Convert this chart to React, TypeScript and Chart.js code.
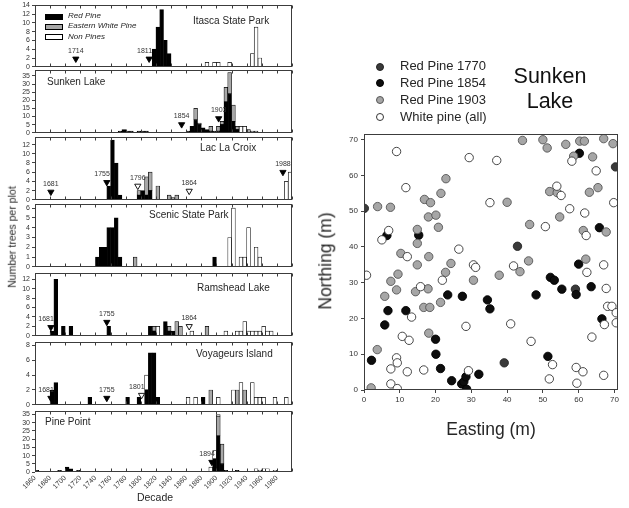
import React, { useEffect, useRef } from "react";
import { Chart, registerables } from "chart.js";

Chart.register(...registerables);

const FONT = '"Liberation Sans", Arial, Helvetica, sans-serif';

// ---------------- DATA: left panels (5-year bins, bin start year) ----------------
const itascaYears = [1815, 1820, 1825, 1830, 1835, 1885, 1895, 1900, 1915, 1945, 1950, 1955];
const itascaRed = [4, 9, 13, 6, 3, 0, 0, 0, 0, 0, 0, 0];
const itascaWhite = [0, 0, 0, 0, 0, 0, 0, 0, 0, 0, 0, 0];
const itascaNon = [0, 0, 0, 0, 0, 1, 1, 1, 1, 3, 9, 2];
const itascaMarkYears = [1714, 1811];
const itascaMarkHeights = [1.8, 1.8];
const itascaMarkOpen = [false, false];

const sunkenYears = [1770, 1775, 1780, 1785, 1795, 1800, 1805, 1860, 1865, 1870, 1875, 1880, 1885, 1890, 1895, 1900, 1905, 1910, 1915, 1920, 1925, 1930, 1935, 1940, 1945, 1950];
const sunkenRed = [1, 2, 1, 1, 1, 1, 1, 1, 4, 8, 5, 3, 2, 1, 1, 1, 5, 19, 24, 7, 2, 0, 0, 0, 0, 0];
const sunkenWhite = [0, 0, 0, 0, 0, 0, 0, 0, 0, 7, 1, 0, 0, 3, 0, 3, 2, 9, 13, 10, 2, 0, 0, 2, 1, 1];
const sunkenNon = [0, 0, 0, 0, 0, 0, 0, 0, 0, 0, 0, 0, 0, 0, 0, 0, 0, 0, 0, 0, 0, 4, 4, 0, 0, 0];
const sunkenMarkYears = [1854, 1903];
const sunkenMarkHeights = [5.1, 8.8];
const sunkenMarkOpen = [false, false];

const lacYears = [1755, 1760, 1765, 1770, 1795, 1800, 1805, 1810, 1820, 1835, 1840, 1845, 1990, 1995];
const lacRed = [3, 13, 8, 1, 1, 2, 1, 2, 0, 0, 0, 0, 0, 0];
const lacWhite = [0, 0, 0, 0, 1, 0, 4, 4, 3, 1, 0.5, 1, 0, 0];
const lacNon = [0, 0, 0, 0, 0, 0, 0, 0, 0, 0, 0, 0, 4, 6];
const lacMarkYears = [1681, 1755, 1796, 1864, 1988];
const lacMarkHeights = [1.7, 3.8, 3.0, 1.9, 6.0];
const lacMarkOpen = [false, false, true, true, false];

const scenicYears = [1740, 1745, 1750, 1755, 1760, 1765, 1770, 1790, 1895, 1915, 1920, 1930, 1935, 1940, 1950, 1955];
const scenicRed = [1, 2, 2, 4, 4, 5, 1, 0, 1, 0, 0, 0, 0, 0, 0, 0];
const scenicWhite = [0, 0, 0, 0, 0, 0, 0, 1, 0, 0, 0, 0, 0, 0, 0, 0];
const scenicNon = [0, 0, 0, 0, 0, 0, 0, 0, 0, 3, 6, 1, 1, 4, 2, 1];
const scenicMarkYears: number[] = [];
const scenicMarkHeights: number[] = [];
const scenicMarkOpen: boolean[] = [];

const ramsYears = [1680, 1685, 1695, 1705, 1755, 1810, 1815, 1820, 1830, 1835, 1840, 1845, 1850, 1865, 1885, 1910, 1925, 1930, 1935, 1940, 1945, 1950, 1955, 1960, 1965, 1970];
const ramsRed = [1, 12, 2, 2, 2, 2, 1, 0, 3, 1, 1, 0, 0, 0, 0, 0, 0, 0, 0, 0, 0, 0, 0, 0, 0, 0];
const ramsWhite = [0, 0, 0, 0, 0, 0, 1, 0, 0, 1, 0, 3, 2, 0, 2, 0, 0, 0, 0, 0, 0, 0, 0, 0, 0, 0];
const ramsNon = [0, 0, 0, 0, 0, 0, 0, 2, 0, 0, 0, 0, 0, 1, 0, 1, 1, 1, 3, 1, 1, 1, 1, 2, 1, 1];
const ramsMarkYears = [1681, 1755, 1864];
const ramsMarkHeights = [1.8, 2.9, 2.0];
const ramsMarkOpen = [false, false, true];

const voyYears = [1680, 1685, 1730, 1780, 1795, 1805, 1810, 1815, 1820, 1860, 1870, 1880, 1890, 1900, 1920, 1925, 1930, 1935, 1945, 1950, 1955, 1960, 1975, 1990];
const voyRed = [2, 3, 1, 1, 1, 2, 7, 7, 1, 0, 0, 1, 0, 0, 0, 0, 0, 0, 0, 0, 0, 0, 0, 0];
const voyWhite = [0, 0, 0, 0, 0, 0, 0, 0, 0, 0, 0, 0, 2, 0, 0, 2, 0, 2, 0, 0, 0, 0, 0, 0];
const voyNon = [0, 0, 0, 0, 0, 2, 0, 0, 0, 1, 1, 0, 0, 1, 2, 0, 3, 0, 3, 1, 1, 1, 1, 1];
const voyMarkYears = [1681, 1755, 1801];
const voyMarkHeights = [0.9, 0.9, 1.3];
const voyMarkOpen = [false, false, true];

const pineYears = [1660, 1690, 1700, 1705, 1715, 1890, 1895, 1900, 1905, 1910, 1925, 1950, 1955, 1960, 1965, 1975];
const pineRed = [1, 1, 3, 2, 1, 0, 8, 22, 5, 1, 1, 0, 0, 0, 0, 0];
const pineWhite = [0, 0, 0, 0, 0, 0, 0, 12, 12, 0, 0, 0, 0, 0, 0, 0];
const pineNon = [0, 0, 0, 0, 0, 3, 5, 1, 0, 0, 0, 2, 1, 2, 2, 1];
const pineMarkYears = [1894];
const pineMarkHeights = [6];
const pineMarkOpen = [false];

const decadeTicks = { min: 1660, max: 2000, step: 20 };

// ---------------- DATA: Sunken Lake stem map (Easting, Northing in m) ----------------
const rp1770: [number, number][] = [[0.1, 50.8], [42.9, 40.2], [39.2, 7.6], [59.1, 28.2], [70.3, 62.4]];
const rp1854: [number, number][] = [[60.2, 66.2], [65.8, 45.4], [6.4, 43.2], [15.3, 43.3], [5.8, 18.2], [6.7, 22.2], [2.1, 8.3], [11.7, 22.2], [20, 14.2], [20.1, 10], [21.4, 6], [23.4, 26.6], [27.5, 26.2], [24.5, 2.6], [27.3, 1.7], [27.9, 2.3], [28.5, 3.7], [28.7, 0.2], [32.1, 4.4], [34.5, 25.2], [35.2, 22.7], [48.1, 26.6], [52.1, 31.5], [53.2, 30.7], [55.3, 28.2], [51.4, 9.4], [59.3, 26.7], [60, 35.2], [63.5, 28.9], [66.5, 19.9]];
const rp1903: [number, number][] = [[44.3, 69.8], [50, 70], [51.2, 67.7], [56.4, 68.7], [60.3, 69.6], [61.6, 69.6], [58.6, 65.4], [63.9, 65.2], [67, 70.3], [69.6, 68.9], [65.4, 56.6], [63, 55.3], [51.9, 55.5], [54, 55.2], [54.7, 48.4], [22.9, 59.1], [16.9, 53.3], [18.6, 52.4], [21.5, 55], [18, 48.4], [20.1, 48.9], [20.8, 45.5], [14.9, 44.9], [3.8, 51.3], [7.4, 51.1], [40, 52.5], [46.3, 46.3], [61.3, 44.6], [67.7, 44.2], [14.9, 41], [3.7, 11.3], [2, 0.6], [5.8, 26.2], [7.5, 30.4], [9.1, 28], [9.5, 32.4], [10.3, 38.2], [14.9, 35], [14.4, 27.5], [17.9, 28.3], [18.1, 37.3], [16.7, 23.1], [18.4, 23.1], [18.1, 15.9], [21.4, 24.5], [22.8, 32.9], [24.3, 35.4], [30.6, 30.7], [37.8, 32.1], [43.6, 33.1], [46, 36.1], [62, 36.6]];
const whitePine: [number, number][] = [[29.4, 65], [37.1, 64.2], [9.1, 66.7], [11.7, 56.6], [64.9, 61.3], [58.1, 64], [61.7, 49.5], [69.8, 52.4], [53.9, 57], [55.1, 54.4], [57.5, 50.7], [35.2, 52.4], [50.7, 45.7], [62.1, 43.2], [6.9, 44.6], [5, 42], [0.7, 32.1], [12.1, 37.3], [13.3, 20.4], [15.8, 28.9], [10.7, 15], [12.6, 13.9], [16.7, 5.6], [12.1, 5.1], [7.5, 5.9], [9.1, 9], [9.3, 7.6], [7.5, 1.7], [9.3, 0.4], [21.9, 30.7], [26.5, 39.4], [28.5, 17.8], [29.2, 5.4], [30.6, 35], [31.2, 34.3], [41.8, 34.7], [41, 18.5], [46.7, 13.6], [52.7, 7.1], [51.8, 3.1], [62.3, 32.9], [63.7, 14.8], [59.3, 6.3], [61.2, 5.1], [59.5, 1.9], [67.2, 18.3], [67, 35], [67.7, 28.4], [68.1, 23.4], [69.3, 23.4], [70.5, 21.6], [70.5, 18.8], [67, 4.1]];
const mapTicks = { min: 0, max: 70, step: 10 };

// ---------------- panel definitions ----------------
type PanelDef = {
  name: string;
  years: number[]; red: number[]; white: number[]; non: number[];
  mYears: number[]; mHeights: number[]; mOpen: boolean[];
  yMax: number; yStep: number;
};

const PANELS: PanelDef[] = [
  { name: "Itasca State Park", years: itascaYears, red: itascaRed, white: itascaWhite, non: itascaNon, mYears: itascaMarkYears, mHeights: itascaMarkHeights, mOpen: itascaMarkOpen, yMax: 14, yStep: 2 },
  { name: "Sunken Lake", years: sunkenYears, red: sunkenRed, white: sunkenWhite, non: sunkenNon, mYears: sunkenMarkYears, mHeights: sunkenMarkHeights, mOpen: sunkenMarkOpen, yMax: 38.5, yStep: 5 },
  { name: "Lac La Croix", years: lacYears, red: lacRed, white: lacWhite, non: lacNon, mYears: lacMarkYears, mHeights: lacMarkHeights, mOpen: lacMarkOpen, yMax: 13.6, yStep: 2 },
  { name: "Scenic State Park", years: scenicYears, red: scenicRed, white: scenicWhite, non: scenicNon, mYears: scenicMarkYears, mHeights: scenicMarkHeights, mOpen: scenicMarkOpen, yMax: 6.4, yStep: 1 },
  { name: "Ramshead Lake", years: ramsYears, red: ramsRed, white: ramsWhite, non: ramsNon, mYears: ramsMarkYears, mHeights: ramsMarkHeights, mOpen: ramsMarkOpen, yMax: 13.3, yStep: 2 },
  { name: "Voyageurs Island", years: voyYears, red: voyRed, white: voyWhite, non: voyNon, mYears: voyMarkYears, mHeights: voyMarkHeights, mOpen: voyMarkOpen, yMax: 8.45, yStep: 2 },
  { name: "Pine Point", years: pineYears, red: pineRed, white: pineWhite, non: pineNon, mYears: pineMarkYears, mHeights: pineMarkHeights, mOpen: pineMarkOpen, yMax: 37, yStep: 5 },
];

// ---------------- layout / style (not data) ----------------
const PANEL_BOX = [[5, 67], [70, 133], [137, 200], [204, 267], [273, 336], [342, 405], [411, 472]];
const PANEL_NAME_POS = [[193, 21.5], [47, 83], [200, 149], [149, 216], [197, 289], [196, 355], [45, 423]];
const MARK_SIDE = [["c", "r"], ["c", "c"], ["c", "r", "c", "c", "c"], [], ["r", "c", "c"], ["r", "c", "r"], ["r"]];
const LEFT_AXIS_X = 35;
const LEFT_RIGHT_X = 292;
const LEFT_CANVAS_W = 300;
const PAD = 6;
const XAXIS_H = 24;
const BAR_W = 3.78;
const C_RED = "#000000";
const C_WHITE = "#a8a8a8";
const C_NON = "#ffffff";
const TEXT = "#262626";

const toPts = (xs: number[], ys: number[]) =>
  xs.map((x, i) => ({ x: x + 2.5, y: ys[i] })).filter((p) => p.y > 0);

const panelDecor = {
  id: "panelDecor",
  afterDatasetsDraw(chart: any, _args: any, opts: any) {
    const { ctx, chartArea: a, scales } = chart;
    const xs = scales.x;
    const ys = scales.y;
    ctx.save();
    ctx.strokeStyle = "#3c3c3c";
    ctx.lineWidth = 1;
    const L = Math.round(a.left) + 0.5, T = Math.round(a.top) + 0.5;
    const R = Math.round(a.right) - 0.5, B = Math.round(a.bottom) - 0.5;
    ctx.strokeRect(L, T, R - L, B - T);
    if (opts.innerX) {
      for (let v = opts.innerX.min; v <= opts.innerX.max; v += opts.innerX.step) {
        const px = Math.round(xs.getPixelForValue(v)) + 0.5;
        ctx.beginPath();
        ctx.moveTo(px, T); ctx.lineTo(px, T + 3);
        ctx.moveTo(px, B); ctx.lineTo(px, B - 3);
        ctx.stroke();
      }
    }
    if (opts.marks) {
      ctx.fillStyle = "#333";
      ctx.font = `7px ${FONT}`;
      ctx.textBaseline = "middle";
      opts.marks.forEach((m: any) => {
        const px = xs.getPixelForValue(m.year);
        const py = ys.getPixelForValue(m.h) - 8;
        if (m.side === "r") { ctx.textAlign = "right"; ctx.fillText(String(m.year), px + 3, py); }
        else { ctx.textAlign = "center"; ctx.fillText(String(m.year), px, py); }
      });
    }
    ctx.restore();
  },
};

function CanvasChart({ make, left, top, width, height }: { make: () => any; left: number; top: number; width: number; height: number }) {
  const ref = useRef<HTMLCanvasElement>(null);
  useEffect(() => {
    const chart = new Chart(ref.current as HTMLCanvasElement, make());
    return () => chart.destroy();
  }, []);
  return (
    <canvas
      ref={ref}
      width={width}
      height={height}
      style={{ position: "absolute", left, top, width, height }}
    />
  );
}

function panelConfig(p: PanelDef, idx: number) {
  const last = idx === PANELS.length - 1;
  const filled = p.mYears.map((y, i) => ({ x: y, y: p.mHeights[i] })).filter((_, i) => !p.mOpen[i]);
  const open = p.mYears.map((y, i) => ({ x: y, y: p.mHeights[i] })).filter((_, i) => p.mOpen[i]);
  const marks = p.mYears.map((y, i) => ({ year: y, h: p.mHeights[i], side: MARK_SIDE[idx][i] }));
  const bar = (label: string, data: any[], color: string) => ({
    type: "bar", label, data, backgroundColor: color, borderColor: "#000",
    borderWidth: 0.7, borderSkipped: false, barThickness: BAR_W, stack: "trees", order: 2,
  });
  const mark = (data: any[], fill: string, st: string) => ({
    type: "scatter", data, pointStyle: "triangle", rotation: 180, pointRadius: 3.6,
    backgroundColor: fill, borderColor: "#000", borderWidth: 0.9, stack: st, order: 1, showLine: false,
  });
  return {
    type: "bar",
    data: {
      datasets: [
        bar("Red Pine", toPts(p.years, p.red), C_RED),
        bar("Eastern White Pine", toPts(p.years, p.white), C_WHITE),
        bar("Non Pines", toPts(p.years, p.non), C_NON),
        mark(filled, "#000", "mf"),
        mark(open, "#fff", "mo"),
      ],
    },
    options: {
      responsive: false,
      animation: false,
      events: [],
      layout: { padding: { left: 0, right: LEFT_CANVAS_W - LEFT_RIGHT_X, top: PAD, bottom: last ? 0 : PAD } },
      plugins: {
        legend: { display: false },
        tooltip: { enabled: false },
        panelDecor: { innerX: decadeTicks, marks },
      },
      scales: {
        x: {
          type: "linear", min: decadeTicks.min, max: decadeTicks.max, offset: false, stacked: true,
          display: last,
          afterFit: (s: any) => { s.height = last ? XAXIS_H : 0; },
          grid: { display: true, drawOnChartArea: false, drawTicks: false, color: "#444" },
          border: { display: false },
          ticks: {
            stepSize: decadeTicks.step, minRotation: 45, maxRotation: 45, autoSkip: false,
            includeBounds: false, padding: 2, color: "#333", font: { size: 7, family: FONT },
            callback: (v: number) => (v >= decadeTicks.max ? "" : String(v)),
          },
        },
        y: {
          min: 0, max: p.yMax, stacked: true,
          afterFit: (s: any) => { s.width = LEFT_AXIS_X; },
          grid: { drawOnChartArea: false, tickLength: 3, color: "#444" },
          border: { display: false },
          ticks: { stepSize: p.yStep, autoSkip: false, includeBounds: false, padding: 2, color: "#333", font: { size: 7, family: FONT } },
        },
      },
    },
    plugins: [panelDecor],
  };
}

// scatter layout
const MAP_LEFT = 300, MAP_TOP = 125, MAP_W = 329, MAP_H = 285;

function mapConfig() {
  const ds = (label: string, arr: [number, number][], fill: string, border: string) => ({
    label, data: arr.map(([x, y]) => ({ x, y })), backgroundColor: fill, borderColor: border,
    borderWidth: 0.9, pointRadius: 4.2, pointStyle: "circle",
  });
  return {
    type: "scatter",
    data: {
      datasets: [
        ds("White pine (all)", whitePine, "#ffffff", "#333"),
        ds("Red Pine 1903", rp1903, "#a6a6a6", "#555"),
        ds("Red Pine 1854", rp1854, "#0d0d0d", "#000"),
        ds("Red Pine 1770", rp1770, "#3a3a3a", "#222"),
      ],
    },
    options: {
      responsive: false,
      animation: false,
      events: [],
      layout: { padding: { left: 0, right: 11, top: 9, bottom: 0 } },
      plugins: { legend: { display: false }, tooltip: { enabled: false }, panelDecor: {} },
      scales: {
        x: {
          type: "linear", min: 0, max: 71,
          afterFit: (s: any) => { s.height = 20; },
          grid: { drawOnChartArea: false, tickLength: 3, color: "#444" },
          border: { display: false },
          ticks: { stepSize: mapTicks.step, autoSkip: false, includeBounds: false, padding: 2, color: "#333", font: { size: 8, family: FONT },
            callback: (v: number) => (v <= mapTicks.max ? String(v) : "") },
        },
        y: {
          type: "linear", min: 0, max: 71.6,
          afterFit: (s: any) => { s.width = 64; },
          grid: { drawOnChartArea: false, tickLength: 3, color: "#444" },
          border: { display: false },
          ticks: { stepSize: mapTicks.step, autoSkip: false, includeBounds: false, padding: 3, color: "#333", font: { size: 8, family: FONT },
            callback: (v: number) => (v <= mapTicks.max ? String(v) : "") },
        },
      },
    },
    plugins: [panelDecor],
  };
}

const txt = (s: string, left: number, cy: number, size: number, extra: any = {}) => (
  <div
    key={s + left + cy}
    style={{
      position: "absolute", left, top: cy - size * 0.56, fontFamily: FONT, fontSize: size,
      lineHeight: 1, color: TEXT, whiteSpace: "nowrap", ...extra,
    }}
  >
    {s}
  </div>
);

const legendItems = [
  { label: "Red Pine", color: C_RED },
  { label: "Eastern White Pine", color: C_WHITE },
  { label: "Non Pines", color: C_NON },
];
const mapLegend = [
  { label: "Red Pine 1770", fill: "#3a3a3a", border: "#222" },
  { label: "Red Pine 1854", fill: "#0d0d0d", border: "#000" },
  { label: "Red Pine 1903", fill: "#a6a6a6", border: "#555" },
  { label: "White pine (all)", fill: "#ffffff", border: "#333" },
];

export default function App() {
  return (
    <div style={{ position: "absolute", left: 0, top: 0, width: 629, height: 508, background: "#fff", overflow: "hidden" }}>
      {PANELS.map((p, i) => {
        const [t, b] = PANEL_BOX[i];
        const last = i === PANELS.length - 1;
        const h = b - t + PAD + (last ? XAXIS_H : PAD);
        return (
          <CanvasChart key={p.name} make={() => panelConfig(p, i)} left={0} top={t - PAD} width={LEFT_CANVAS_W} height={h} />
        );
      })}
      {PANELS.map((p, i) => txt(p.name, PANEL_NAME_POS[i][0], PANEL_NAME_POS[i][1], 10))}
      {legendItems.map((it, i) => (
        <div key={it.label} style={{ position: "absolute", left: 45, top: 16.5 + i * 10.4 - 3, width: 18, height: 6, boxSizing: "border-box", border: "1px solid #000", background: it.color }} />
      ))}
      {legendItems.map((it, i) => txt(it.label, 68, 16.5 + i * 10.4, 8, { fontStyle: "italic" }))}
      <div style={{ position: "absolute", left: 12, top: 237, transform: "translate(-50%,-50%) rotate(-90deg)", fontFamily: FONT, fontSize: 10.5, lineHeight: 1, color: TEXT, whiteSpace: "nowrap" }}>
        Number trees per plot
      </div>
      <div style={{ position: "absolute", left: 155, top: 497, transform: "translate(-50%,-50%)", fontFamily: FONT, fontSize: 10.5, lineHeight: 1, color: TEXT, whiteSpace: "nowrap" }}>
        Decade
      </div>

      <CanvasChart make={mapConfig} left={MAP_LEFT} top={MAP_TOP} width={MAP_W} height={MAP_H} />
      {mapLegend.map((it, i) => (
        <div key={it.label} style={{ position: "absolute", left: 380 - 4, top: 66.7 + i * 16.7 - 4, width: 8, height: 8, borderRadius: "50%", boxSizing: "border-box", border: `1px solid ${it.border}`, background: it.fill }} />
      ))}
      {mapLegend.map((it, i) => txt(it.label, 400, 66.7 + i * 16.7, 13))}
      <div style={{ position: "absolute", left: 550, top: 89, transform: "translate(-50%,-50%)", fontFamily: FONT, fontSize: 21.5, lineHeight: "25px", color: "#111", textAlign: "center", whiteSpace: "nowrap" }}>
        Sunken<br />Lake
      </div>
      <div style={{ position: "absolute", left: 326, top: 261, transform: "translate(-50%,-50%) rotate(-90deg)", fontFamily: FONT, fontSize: 17.5, lineHeight: 1, color: TEXT, whiteSpace: "nowrap" }}>
        Northing (m)
      </div>
      <div style={{ position: "absolute", left: 491, top: 430, transform: "translate(-50%,-50%)", fontFamily: FONT, fontSize: 17.5, lineHeight: 1, color: TEXT, whiteSpace: "nowrap" }}>
        Easting (m)
      </div>
    </div>
  );
}
